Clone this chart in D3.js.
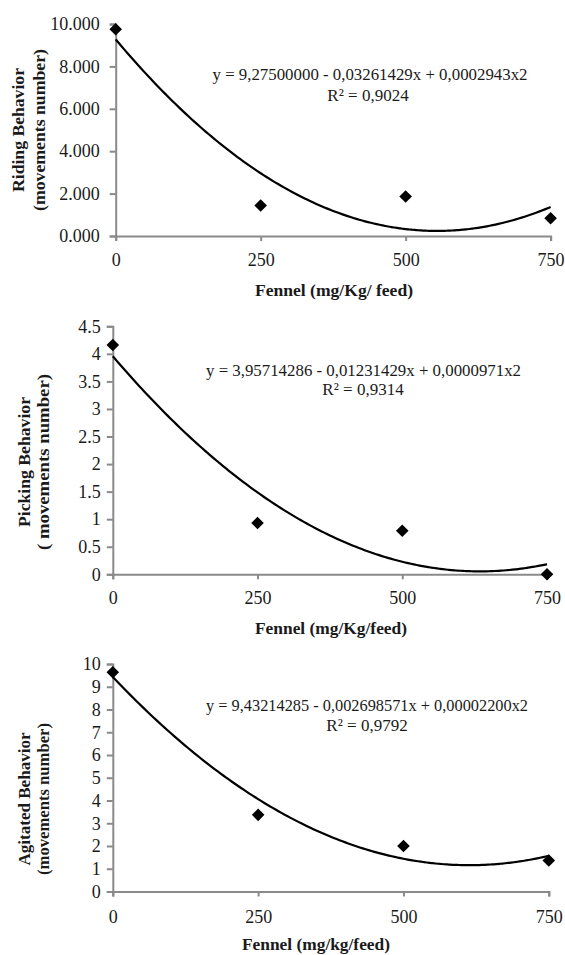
<!DOCTYPE html>
<html>
<head>
<meta charset="utf-8">
<script src="https://cdn.jsdelivr.net/npm/d3@7/dist/d3.min.js"></script>
<style>
  html, body { margin: 0; padding: 0; background: #ffffff; }
  svg { display: block; }
  text { font-family: "Liberation Serif", "Times New Roman", serif; fill: #1a1a1a; }
</style>
</head>
<body>
<svg id="chart" width="565" height="955"></svg>
<script>
// ---------------- DATA ----------------
const doses = [0, 250, 500, 750];
const xTickValues = [0, 250, 500, 750];

const ridingValues   = [9.75, 1.44, 1.86, 0.84];
const pickingValues  = [4.16, 0.93, 0.79, 0.00];
const agitatedValues = [9.64, 3.37, 2.00, 1.36];

const ridingTicks   = [0, 2, 4, 6, 8, 10];
const pickingTicks  = [0, 0.5, 1, 1.5, 2, 2.5, 3, 3.5, 4, 4.5];
const agitatedTicks = [0, 1, 2, 3, 4, 5, 6, 7, 8, 9, 10];

const ridingTickLabels   = ["0.000", "2.000", "4.000", "6.000", "8.000", "10.000"];
const pickingTickLabels  = ["0", "0.5", "1", "1.5", "2", "2.5", "3", "3.5", "4", "4.5"];
const agitatedTickLabels = ["0", "1", "2", "3", "4", "5", "6", "7", "8", "9", "10"];

// quadratic trend coefficients [a, b, c] : y = a + b x + c x^2
const ridingCoef   = [9.27500000, -0.03261429, 0.00002943];
const pickingCoef  = [3.95714286, -0.01231429, 0.00000971];
const agitatedCoef = [9.43214285, -0.02698571, 0.00002200];

const equationLabels = [
  "y = 9,27500000 - 0,03261429x + 0,0002943x2",
  "y = 3,95714286 - 0,01231429x + 0,0000971x2",
  "y = 9,43214285 - 0,002698571x + 0,00002200x2"
];
const r2Labels = ["R\u00B2 = 0,9024", "R\u00B2 = 0,9314", "R\u00B2 = 0,9792"];
const yTitleLine1 = ["Riding Behavior", "Picking Behavior", "Agitated Behavior"];
const yTitleLine2 = ["(movements number)", "( movements number)", "(movements number)"];
const xTitles = ["Fennel (mg/Kg/ feed)", "Fennel (mg/Kg/feed)", "Fennel (mg/kg/feed)"];

// ---------------- LAYOUT ----------------
const layouts = [
  { x0: 115.7, x1: 550.6, yB: 236.0, yT: 24.0, yMax: 10, tickPad: 10,
    eq: [370, 74, 315], r2: [368, 95], yt: [18.5, 39, 130, 124, 162], xt: [334, 290, 158], xLabY: 260 },
  { x0: 112.8, x1: 547.0, yB: 574.3, yT: 326.3, yMax: 4.5, tickPad: 6,
    eq: [363.5, 370.5, 315], r2: [363, 389.5], yt: [24, 43, 462, 130, 176], xt: [331, 628, 152], xLabY: 597.7 },
  { x0: 112.8, x1: 548.8, yB: 891.5, yT: 664.0, yMax: 10, tickPad: 6,
    eq: [367, 705, 322], r2: [367, 725], yt: [24, 43, 799, 133, 152], xt: [316, 944, 148], xLabY: 916.7 }
];

const valueSets = [ridingValues, pickingValues, agitatedValues];
const tickSets = [ridingTicks, pickingTicks, agitatedTicks];
const tickLabelSets = [ridingTickLabels, pickingTickLabels, agitatedTickLabels];
const coefSets = [ridingCoef, pickingCoef, agitatedCoef];

const svg = d3.select("#chart");
const axisColor = "#8a8a8a";

layouts.forEach((L, i) => {
  const g = svg.append("g");
  const x = d3.scaleLinear().domain([0, 750]).range([L.x0, L.x1]);
  const y = d3.scaleLinear().domain([0, L.yMax]).range([L.yB, L.yT]);

  // y axis
  const yLabels = tickLabelSets[i];
  const yAxis = d3.axisLeft(y).tickValues(tickSets[i])
    .tickFormat((d, k) => yLabels[k]).tickSize(6).tickPadding(L.tickPad);
  const gy = g.append("g").attr("transform", `translate(${L.x0},0)`).call(yAxis);
  gy.select(".domain").attr("stroke", axisColor).attr("stroke-width", 2);
  gy.selectAll(".tick line").attr("stroke", axisColor).attr("stroke-width", 2);
  gy.selectAll(".tick text").attr("fill", "#1a1a1a")
    .style("font-family", "'Liberation Serif', serif").style("font-size", "18px");

  // x axis
  const xAxis = d3.axisBottom(x).tickValues(xTickValues).tickFormat(d3.format("d"))
    .tickSize(5).tickPadding(0);
  const gx = g.append("g").attr("transform", `translate(0,${L.yB})`).call(xAxis);
  gx.select(".domain").attr("stroke", axisColor).attr("stroke-width", 2);
  gx.selectAll(".tick line").attr("stroke", axisColor).attr("stroke-width", 2);
  gx.selectAll(".tick text").attr("fill", "#1a1a1a")
    .attr("y", L.xLabY - L.yB).attr("dy", "0.35em")
    .style("font-family", "'Liberation Serif', serif").style("font-size", "18px");

  // trend line
  const c = coefSets[i];
  const curveX = d3.range(0, 750.01, 5);
  const line = d3.line().x(d => x(d)).y(d => y(c[0] + c[1] * d + c[2] * d * d)).curve(d3.curveBasis);
  g.append("path").datum(curveX).attr("d", line)
    .attr("fill", "none").attr("stroke", "#000").attr("stroke-width", 2.2);

  // points (diamonds)
  const h = 6.3;
  g.selectAll("path.pt").data(doses.map((d, k) => [d, valueSets[i][k]]))
    .enter().append("path").attr("class", "pt")
    .attr("d", d => {
      const px = x(d[0]), py = y(d[1]);
      return `M${px},${py - h}L${px + h},${py}L${px},${py + h}L${px - h},${py}Z`;
    })
    .attr("fill", "#000");

  // equation & R2
  g.append("text").attr("x", L.eq[0]).attr("y", L.eq[1]).attr("dy", "0.35em")
    .attr("text-anchor", "middle").style("font-size", "17px")
    .attr("textLength", L.eq[2]).attr("lengthAdjust", "spacingAndGlyphs")
    .text(equationLabels[i]);
  g.append("text").attr("x", L.r2[0]).attr("y", L.r2[1]).attr("dy", "0.35em")
    .attr("text-anchor", "middle").style("font-size", "17px")
    .text(r2Labels[i]);

  // y title (two rotated lines)
  const yt = L.yt;
  [[yTitleLine1[i], yt[0], yt[3]], [yTitleLine2[i], yt[1], yt[4]]].forEach(([t, cx, len]) => {
    g.append("text").attr("transform", `translate(${cx},${yt[2]}) rotate(-90)`)
      .attr("text-anchor", "middle").attr("dy", "0.35em")
      .style("font-size", "16px").style("font-weight", "bold")
      .attr("textLength", len).attr("lengthAdjust", "spacingAndGlyphs")
      .text(t);
  });

  // x title
  g.append("text").attr("x", L.xt[0]).attr("y", L.xt[1]).attr("dy", "0.35em")
    .attr("text-anchor", "middle").style("font-size", "17px").style("font-weight", "bold")
    .attr("textLength", L.xt[2]).attr("lengthAdjust", "spacingAndGlyphs")
    .text(xTitles[i]);
});
</script>
</body>
</html>
